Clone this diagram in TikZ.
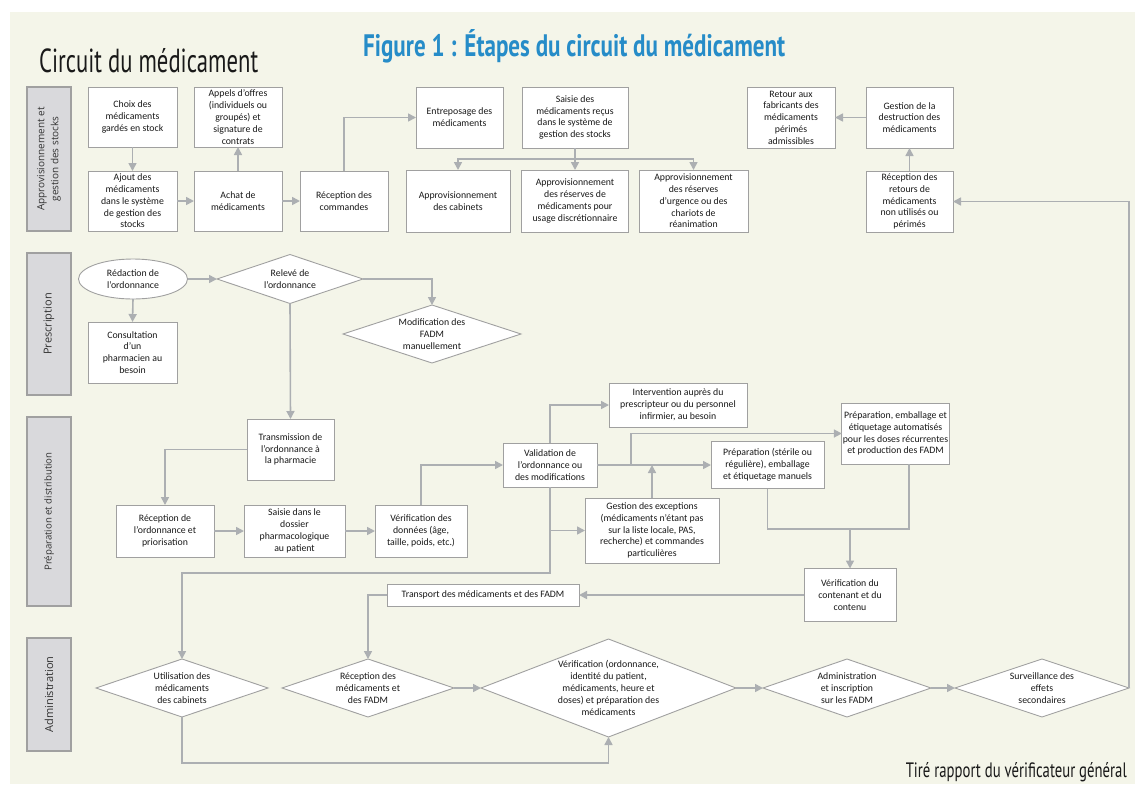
\documentclass[tikz,border=0pt]{standalone}
\usepackage{fontspec}
\setmainfont{Carlito}
\newfontfamily\lanefont{Open Sans}
\newfontfamily\headfont{PT Sans}
\usepackage{graphicx}
\usetikzlibrary{shapes.geometric,arrows.meta,calc}
\definecolor{bg}{RGB}{244,245,233}
\definecolor{lnc}{RGB}{172,175,178}
\definecolor{bd}{RGB}{160,160,160}
\definecolor{lanefill}{RGB}{217,217,220}
\definecolor{titleblue}{RGB}{38,140,200}
\begin{document}
\begin{tikzpicture}[x=1pt,y=-1pt,
  box/.style={draw=bd, line width=0.9pt, fill=white, align=center, font=\fontsize{9.8}{11.8}\selectfont, inner sep=1pt, outer sep=0pt, text=black!90},
  dia/.style={diamond, draw=bd, line width=0.9pt, fill=white, inner sep=0pt, outer sep=0pt},
  dlab/.style={align=center, font=\fontsize{9.8}{11.8}\selectfont, text=black!90},
  lane/.style={draw=bd, fill=lanefill, line width=1.2pt, outer sep=0pt, rotate=90, minimum height=44pt, align=center, font=\lanefont\fontsize{10}{14}\selectfont, text=black!80},
  arr/.style={draw=lnc, line width=1.6pt, -{Triangle[length=8pt,width=8pt]}},
  link/.style={draw=lnc, line width=1.6pt}]
\useasboundingbox (0,0) rectangle (1135,785);
\fill[bg] (10,12) rectangle (1135,784);

% titles
\node[anchor=base west, inner sep=0pt, text=black!90] (t1) at (39,72) {\resizebox{219pt}{24pt}{\headfont Circuit du médicament}};
\node[anchor=base west, inner sep=0pt, text=titleblue] (t2) at (363,56) {\resizebox{422pt}{27pt}{\headfont\bfseries Figure 1 : Étapes du circuit du médicament}};
\node[anchor=base east, inner sep=0pt, text=black!90] (t3) at (1127,777) {\resizebox{221pt}{15pt}{\headfont Tiré rapport du vérificateur général}};

% lanes
\node[lane, minimum width=144pt] (L1) at (49,159) {Approvisionnement et\\gestion des stocks};
\node[lane, minimum width=142pt, font=\lanefont\fontsize{11}{14}\selectfont] (L2) at (49,324) {Prescription};
\node[lane, minimum width=189pt, font=\lanefont\fontsize{9.6}{14}\selectfont] (L3) at (49,511.5) {Préparation et distribution};
\node[lane, minimum width=113pt, font=\lanefont\fontsize{11}{14}\selectfont] (L4) at (49,694.5) {Administration};

% lane 1
\node[box, minimum width=89pt, minimum height=60pt] (choix) at (132.5,117) {Choix des\\médicaments\\gardés en stock};
\node[box, minimum width=89pt, minimum height=60pt] (ajout) at (132.5,201) {Ajout des\\médicaments\\dans le système\\de gestion des\\stocks};
\node[box, minimum width=88pt, minimum height=60pt] (appels) at (238,117) {Appels d’offres\\(individuels ou\\groupés) et\\signature de\\contrats};
\node[box, minimum width=88pt, minimum height=60pt] (achat) at (238,201) {Achat de\\médicaments};
\node[box, minimum width=88pt, minimum height=60pt] (recep) at (344,201) {Réception des\\commandes};
\node[box, minimum width=87pt, minimum height=61pt] (entre) at (459.5,117.5) {Entreposage des\\médicaments};
\node[box, minimum width=106pt, minimum height=61pt] (saisie) at (575,117.5) {Saisie des\\médicaments reçus\\dans le système de\\gestion des stocks};
\node[box, minimum width=104pt, minimum height=62pt] (apcab) at (458,201) {Approvisionnement\\des cabinets};
\node[box, minimum width=107pt, minimum height=62pt] (apdis) at (575,201) {Approvisionnement\\des réserves de\\médicaments pour\\usage discrétionnaire};
\node[box, minimum width=109pt, minimum height=62pt] (apurg) at (693.5,201) {Approvisionnement\\des réserves\\d’urgence ou des\\chariots de\\réanimation};
\node[box, minimum width=88pt, minimum height=61pt] (retour) at (791,117.5) {Retour aux\\fabricants des\\médicaments\\périmés\\admissibles};
\node[box, minimum width=87pt, minimum height=61pt] (gestd) at (909.5,117.5) {Gestion de la\\destruction des\\médicaments};
\node[box, minimum width=87pt, minimum height=61pt] (recret) at (909.5,201.5) {Réception des\\retours de\\médicaments\\non utilisés ou\\périmés};

% lane 2
\node[ellipse, draw=bd, line width=0.9pt, fill=white, minimum width=109pt, minimum height=40pt, inner sep=0pt, outer sep=0pt, align=center, font=\fontsize{9.8}{11.8}\selectfont, text=black!90] (redac) at (133,279) {Rédaction de\\l’ordonnance};
\node[dia, minimum width=146pt, minimum height=49pt, label={[dlab]center:{Relevé de\\l’ordonnance}}] (relev) at (290,279) {};
\node[box, minimum width=89pt, minimum height=61pt] (consult) at (132.5,352.5) {Consultation\\d’un\\pharmacien au\\besoin};
\node[dia, minimum width=178pt, minimum height=58pt, label={[dlab]center:{Modification des\\FADM\\manuellement}}] (modif) at (432,334) {};

% lane 3
\node[box, minimum width=87pt, minimum height=61pt] (trans) at (290.5,449.5) {Transmission de\\l’ordonnance à\\la pharmacie};
\node[box, minimum width=98pt, minimum height=52pt] (record) at (165,531) {Réception de\\l’ordonnance et\\priorisation};
\node[box, minimum width=101pt, minimum height=52pt] (saisd) at (294.5,531) {Saisie dans le\\dossier\\pharmacologique\\au patient};
\node[box, minimum width=92pt, minimum height=52pt] (verdon) at (421,531) {Vérification des\\données (âge,\\taille, poids, etc.)};
\node[box, minimum width=94pt, minimum height=44pt] (valid) at (550,465) {Validation de\\l’ordonnance ou\\des modifications};
\node[box, minimum width=138pt, minimum height=44pt] (interv) at (678,405) {Intervention auprès du\\prescripteur ou du personnel\\infirmier, au besoin};
\node[box, minimum width=134pt, minimum height=65pt] (gest) at (652,530.5) {Gestion des exceptions\\(médicaments n’étant pas\\sur la liste locale, PAS,\\recherche) et commandes\\particulières};
\node[box, minimum width=113pt, minimum height=47pt] (prepm) at (767.5,465) {Préparation (stérile ou\\régulière), emballage\\et étiquetage manuels};
\node[box, minimum width=101pt, minimum height=61pt] (prepa) at (895.5,433.5) {Préparation, emballage et\\étiquetage automatisés\\pour les doses récurrentes\\et production des FADM};
\node[box, minimum width=92pt, minimum height=53pt] (vcont) at (850,595) {Vérification du\\contenant et du\\contenu};
\node[box, minimum width=192pt, minimum height=22pt] (transp) at (483,595) {Transport des médicaments et des FADM};

% lane 4
\node[dia, minimum width=172pt, minimum height=58pt, label={[dlab]center:{Utilisation des\\médicaments\\des cabinets}}] (util) at (182,688) {};
\node[dia, minimum width=172pt, minimum height=58pt, label={[dlab]center:{Réception des\\médicaments et\\des FADM}}] (recmed) at (368,688) {};
\node[dia, minimum width=255pt, minimum height=98pt, label={[dlab]center:{Vérification (ordonnance,\\identité du patient,\\médicaments, heure et\\doses) et préparation des\\médicaments}}] (verif) at (608.5,688) {};
\node[dia, minimum width=168pt, minimum height=58pt, label={[dlab]center:{Administration\\et inscription\\sur les FADM}}] (admin) at (847,688) {};
\node[dia, minimum width=174pt, minimum height=58pt, label={[dlab]center:{Surveillance des\\effets\\secondaires}}] (surv) at (1042,688) {};

% coordinates
\coordinate (sj) at (575,159);
\coordinate (vb) at (631,465);
\coordinate (gj) at (652,465);
\coordinate (vl) at (550,573);
\coordinate (pj) at (850,529);
\coordinate (px) at (909,529);

% connectors lane 1
\draw[arr] (choix.south) -- (ajout.north);
\draw[arr] (ajout.east) -- (achat.west);
\draw[arr] (achat.north) -- (appels.south);
\draw[arr] (achat.east) -- (recep.west);
\draw[arr] (recep.north) |- (entre.west);
\draw[link] (saisie.south) -- (sj);
\draw[arr] (sj) -| (apcab.north);
\draw[arr] (sj) -| (apurg.north);
\draw[arr] (sj) -- (apdis.north);
\draw[arr] (gestd.west) -- (retour.east);
\draw[arr] (recret.north) -- (gestd.south);
\draw[arr] (surv.east) |- (recret.east);

% connectors lane 2
\draw[arr] (redac.east) -- (relev.west);
\draw[arr] (redac.south) -- (consult.north);
\draw[arr] (relev.east) -| (modif.north);
\draw[arr] (relev.south) -- (trans.north);

% connectors lane 3
\draw[arr] (trans.west) -| (record.north);
\draw[arr] (record.east) -- (saisd.west);
\draw[arr] (saisd.east) -- (verdon.west);
\draw[arr] (verdon.north) |- (valid.west);
\draw[arr] (valid.north) |- (interv.west);
\draw[arr] (valid.east) -- (prepm.west);
\draw[arr] (vb) |- (prepa.west);
\draw[arr] (gest.north) -- (gj);
\draw[arr] (valid.south) |- (gest.west);
\draw[arr] (valid.south) -- (vl) -| (util.north);
\draw[link] (prepm.south) |- (px) -- (prepa.south -| px);
\draw[arr] (pj) -- (vcont.north);
\draw[arr] (vcont.west) -- (transp.east);
\draw[arr] (transp.west) -| (recmed.north);

% connectors lane 4
\draw[arr] (util.south) -- ++(0,46) -| (verif.south);
\draw[arr] (recmed.east) -- (verif.west);
\draw[arr] (verif.east) -- (admin.west);
\draw[arr] (admin.east) -- (surv.west);
\end{tikzpicture}
\end{document}
